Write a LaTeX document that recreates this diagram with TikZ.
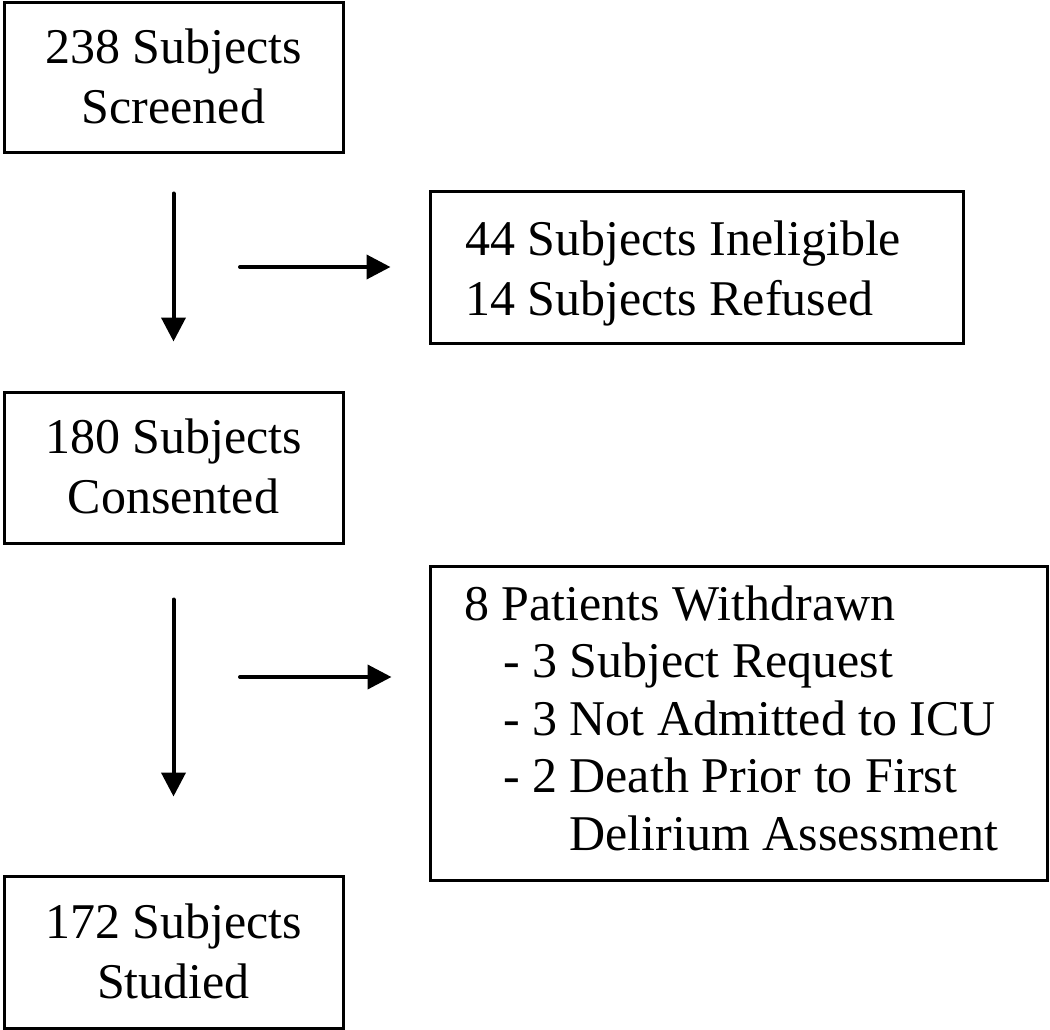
\documentclass[tikz,border=0pt]{standalone}
\usepackage{fontspec}
\setmainfont{Liberation Serif}
\usetikzlibrary{arrows.meta}
\newcommand{\natspace}{\spaceskip=0pt\xspaceskip=0pt\rightskip=0pt plus 1fil\relax}
\begin{document}
\begin{tikzpicture}[x=1pt,y=-1pt,
  box/.style={draw=black, line width=3pt, rectangle, inner sep=0pt,
    font=\fontsize{50}{60}\selectfont},
  cbox/.style={box, align=center, minimum width=339pt, text height=95pt},
  lbox/.style={box, align=left, text height=35pt},
  flow/.style={line width=4pt, line cap=round, -{Triangle[length=24pt,width=24pt]}}]
\useasboundingbox (0,0) rectangle (1050,1030);

\node[cbox, minimum height=150pt, text depth=3pt] (screen) at (173.5,78) {238 Subjects\\Screened};
\node[lbox, minimum width=533pt, minimum height=151pt, text width=463pt, text depth=60pt] (excl) at (696.5,267.5) {\natspace 44 Subjects Ineligible\\14 Subjects Refused};
\node[cbox, minimum height=151pt, text depth=4pt] (consent) at (173.5,467.5) {180 Subjects\\Consented};
\node[lbox, minimum width=617pt, minimum height=314pt, text width=549pt, text depth=241pt,
  font=\fontsize{50}{57.5}\selectfont] (withdrawn) at (738.5,723) {\natspace 8 Patients Withdrawn\\
  \hspace*{39pt}- 3 Subject Request\\
  \hspace*{39pt}- 3 Not Admitted to ICU\\
  \hspace*{39pt}- 2 Death Prior to First\\
  \hspace*{39pt}\hphantom{- 2 }Delirium Assessment};
\node[cbox, minimum height=152pt, text depth=3pt] (studied) at (173.5,952) {172 Subjects\\Studied};

\coordinate (r1) at (240,267);
\coordinate (r2) at (240,677);

\draw[flow, shorten <=39pt, shorten >=49pt] (screen.south) -- (consent.north);
\draw[flow, shorten >=38pt] (r1) -- (r1 -| excl.west);
\draw[flow, shorten <=55pt, shorten >=78pt] (consent.south) -- (studied.north);
\draw[flow, shorten >=37pt] (r2) -- (r2 -| withdrawn.west);
\end{tikzpicture}
\end{document}
